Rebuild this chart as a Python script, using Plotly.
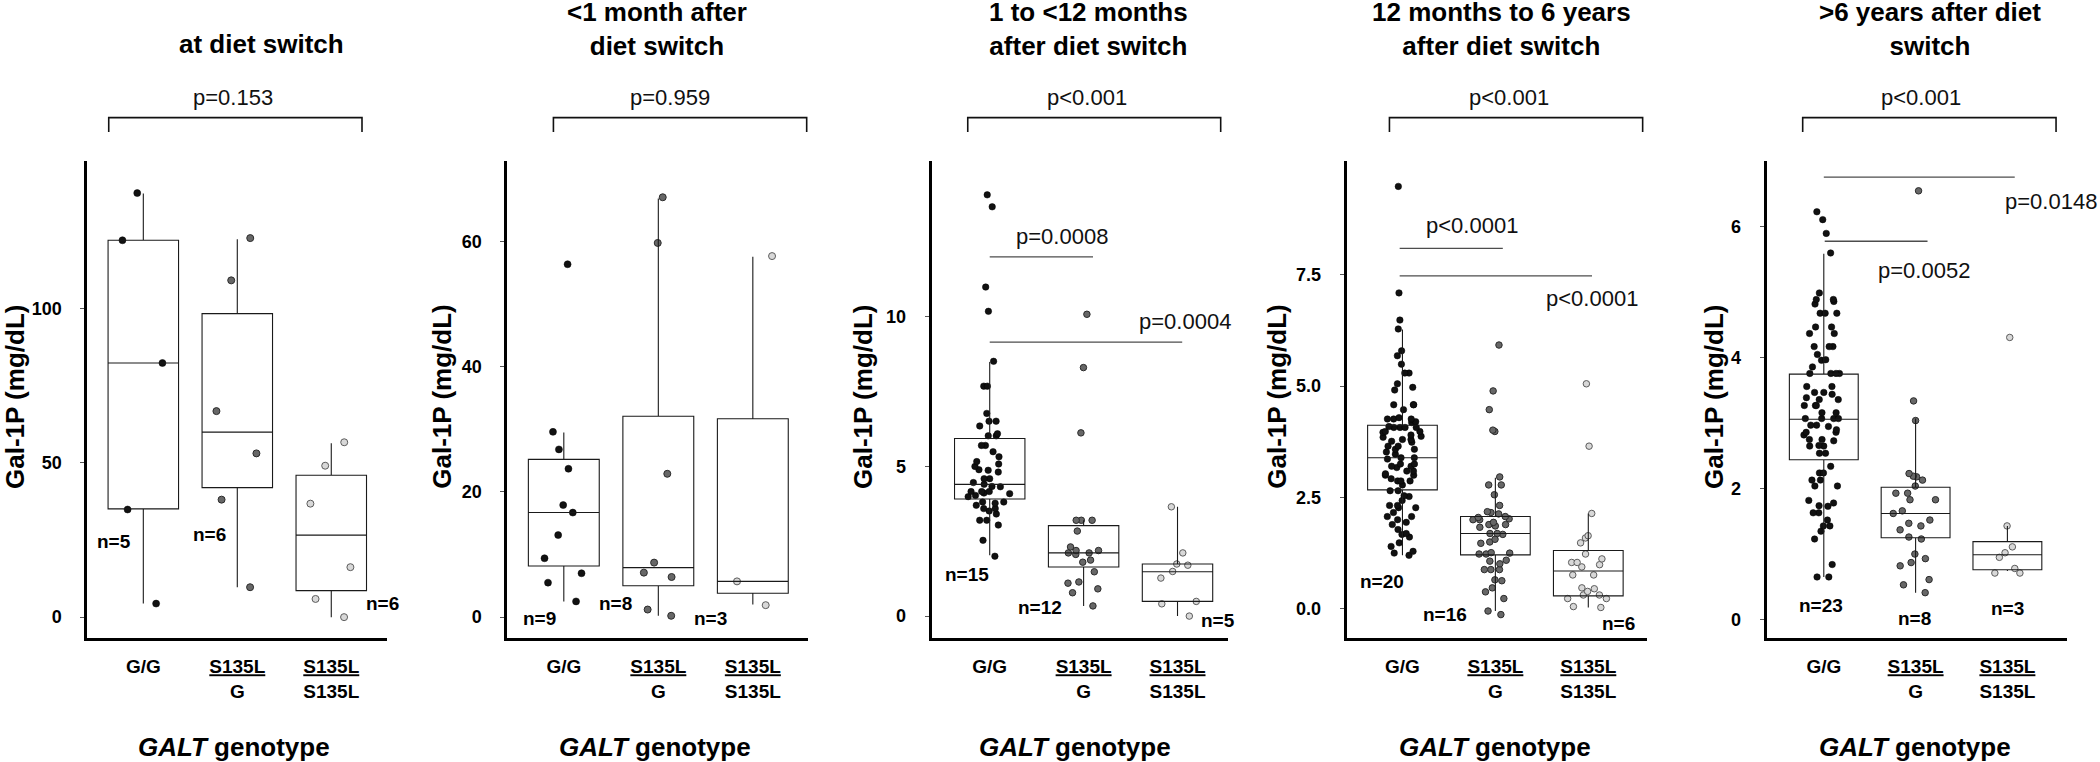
import plotly.graph_objects as go

FONT = "Liberation Sans, Arial, Helvetica, sans-serif"
W, H = 2100, 762

# ---------------- data ----------------
categories = ["G/G", "S135L/G", "S135L/S135L"]
tick_labels = ["G/G", "<u>S135L</u><br>G", "<u>S135L</u><br>S135L"]
panel_titles = ["at diet switch",
                "&lt;1 month after<br>diet switch",
                "1 to &lt;12 months<br>after diet switch",
                "12 months to 6 years<br>after diet switch",
                "&gt;6 years after diet<br>switch"]
overall_p = ["p=0.153", "p=0.959", "p&lt;0.001", "p&lt;0.001", "p&lt;0.001"]
group_n = [[5, 6, 6], [9, 8, 3], [15, 12, 5], [20, 16, 6], [23, 8, 3]]
pair_p3 = ["p=0.0008", "p=0.0004"]
pair_p4 = ["p&lt;0.0001", "p&lt;0.0001"]
pair_p5 = ["p=0.0148", "p=0.0052"]

# Panel 1: at diet switch (Gal-1P, mg/dL)
p1_gg = [137.5, 122.2, 82.4, 34.9, 4.4]
p1_sg = [122.9, 109.2, 66.8, 53.1, 38.1, 9.7]
p1_ss = [56.7, 49.1, 36.8, 16.2, 5.9, 0.0]
p1_q1 = [35.1, 42.0, 8.6]
p1_med = [82.4, 60.0, 26.6]
p1_q3 = [122.2, 98.4, 46.0]
p1_lo = [4.4, 9.7, 0.0]
p1_hi = [137.4, 122.5, 56.4]

# Panel 2: <1 month
p2_gg = [56.4, 29.6, 26.8, 23.7, 17.9, 16.7, 13.1, 9.4, 7.0, 5.5, 2.5]
p2_sg = [67.1, 59.8, 22.9, 8.7, 7.1, 6.4, 1.2, 0.2]
p2_ss = [57.7, 5.7, 1.9]
p2_q1 = [8.15, 5.0, 3.8]
p2_med = [16.7, 7.9, 5.7]
p2_q3 = [25.2, 32.1, 31.7]
p2_lo = [2.5, 0.2, 2.0]
p2_hi = [29.5, 66.9, 57.6]

# Panel 3: 1 to <12 months
p3_gg = [14.07, 13.67, 10.99, 10.18, 8.51, 7.68, 7.68, 6.77, 6.51, 6.51, 6.35, 6.02,
         6.09, 6.02, 5.70, 5.70, 5.49, 5.32, 5.08, 5.16, 5.0, 4.87, 4.89, 4.81, 4.59,
         4.59, 4.40, 4.46, 4.33, 4.32, 4.16, 4.03, 4.09, 4.11, 4.16, 4.16, 3.81, 3.81,
         3.59, 3.70, 3.77, 3.59, 3.99, 3.51, 3.41, 3.2, 3.2, 3.04, 2.53, 2.0]
p3_sg = [10.08, 8.30, 6.12, 3.2, 3.2, 3.2, 2.84, 2.31, 2.11, 2.19, 2.19, 2.06, 2.11,
         1.80, 1.87, 1.48, 1.14, 1.10, 0.91, 0.78, 0.34]
p3_ss = [3.65, 2.11, 1.74, 1.70, 1.49, 1.27, 0.49, 0.41, 0.0]
p3_q1 = [3.91, 1.64, 0.49]
p3_med = [4.40, 2.11, 1.48]
p3_q3 = [5.93, 3.02, 1.74]
p3_lo = [2.03, 0.34, 0.0]
p3_hi = [8.49, 3.2, 3.65]

# Panel 4: 12 months to 6 years
p4_gg = [9.48, 7.09, 6.48, 6.28, 5.79, 5.68, 5.29, 5.49, 5.29, 5.05, 4.91, 4.97, 4.58,
         4.58, 4.47, 4.58, 4.29, 4.26, 4.26, 4.26, 4.20, 4.18, 4.07, 4.07, 4.07, 4.07,
         4.09, 3.96, 3.98, 3.98, 3.90, 3.85, 3.87, 3.80, 3.74, 3.80, 3.76, 3.65, 3.65,
         3.58, 3.58, 3.52, 3.47, 3.39, 3.39, 3.36, 3.25, 3.25, 3.20, 3.20, 3.17, 3.09,
         3.09, 3.03, 3.00, 3.00, 2.87, 2.92, 2.87, 2.78, 2.87, 2.65, 2.65, 2.52, 2.54,
         2.43, 2.32, 2.27, 2.27, 2.32, 2.16, 2.07, 2.07, 1.94, 2.00, 1.78, 1.89, 1.67,
         1.61, 1.69, 1.48, 1.40, 1.20, 1.25, 1.29]
p4_sg = [5.92, 4.89, 4.47, 4.01, 3.98, 2.96, 2.78, 2.78, 2.56, 2.32, 2.18, 2.16, 2.13,
         2.07, 2.05, 2.00, 2.02, 2.00, 1.94, 1.89, 1.89, 1.86, 1.83, 1.69, 1.69, 1.67,
         1.56, 1.50, 1.47, 1.26, 1.25, 1.23, 1.23, 1.09, 1.07, 1.01, 0.88, 0.88, 0.88,
         0.65, 0.63, 0.47, 0.38, 0.23, -0.13, -0.05]
p4_ss = [5.05, 3.65, 2.14, 1.59, 1.64, 1.48, 1.23, 1.12, 1.04, 0.99, 1.04, 0.94, 0.76,
         0.76, 0.47, 0.45, 0.39, 0.31, 0.23, 0.31, 0.23, 0.03, 0.05]
p4_q1 = [2.67, 1.21, 0.29]
p4_med = [3.39, 1.69, 0.85]
p4_q3 = [4.12, 2.07, 1.31]
p4_lo = [1.20, -0.05, 0.03]
p4_hi = [6.27, 2.94, 2.14]

# Panel 5: >6 years
p5_gg = [6.23, 6.11, 5.90, 5.60, 4.99, 4.89, 4.86, 4.82, 4.89, 4.68, 4.68, 4.68, 4.47,
         4.47, 4.37, 4.37, 4.17, 4.17, 4.17, 4.05, 3.97, 3.96, 3.86, 3.76, 3.76, 3.76,
         3.76, 3.56, 3.56, 3.47, 3.47, 3.44, 3.39, 3.36, 3.36, 3.27, 3.27, 3.27, 3.16,
         3.16, 3.07, 3.07, 3.07, 3.07, 2.97, 2.97, 2.95, 2.90, 2.86, 2.86, 2.82, 2.75,
         2.73, 2.75, 2.66, 2.65, 2.65, 2.54, 2.54, 2.34, 2.24, 2.24, 2.04, 2.13, 2.13,
         2.04, 1.74, 1.73, 1.82, 1.78, 1.63, 1.63, 1.52, 1.43, 1.43, 1.35, 1.23, 0.84,
         0.65, 0.65]
p5_sg = [6.55, 3.34, 3.04, 2.18, 2.19, 2.23, 2.13, 2.04, 1.93, 1.93, 1.83, 1.83, 1.66,
         1.62, 1.52, 1.47, 1.43, 1.37, 1.26, 1.23, 1.00, 0.93, 0.87, 0.82, 0.61, 0.53, 0.41]
p5_ss = [4.31, 1.43, 1.11, 1.02, 0.95, 0.78, 0.71, 0.71]
p5_q1 = [2.44, 1.25, 0.76]
p5_med = [3.06, 1.62, 0.99]
p5_q3 = [3.75, 2.02, 1.19]
p5_lo = [0.65, 0.41, 0.74]
p5_hi = [5.59, 3.07, 1.43]

values = [[p1_gg, p1_sg, p1_ss], [p2_gg, p2_sg, p2_ss], [p3_gg, p3_sg, p3_ss],
          [p4_gg, p4_sg, p4_ss], [p5_gg, p5_sg, p5_ss]]
box_stats = [(p1_q1, p1_med, p1_q3, p1_lo, p1_hi), (p2_q1, p2_med, p2_q3, p2_lo, p2_hi),
             (p3_q1, p3_med, p3_q3, p3_lo, p3_hi), (p4_q1, p4_med, p4_q3, p4_lo, p4_hi),
             (p5_q1, p5_med, p5_q3, p5_lo, p5_hi)]
y_ticks = [[0, 50, 100], [0, 20, 40, 60], [0, 5, 10], [0, 2.5, 5, 7.5], [0, 2, 4, 6]]
pair_texts = [[], [], pair_p3, pair_p4, pair_p5]

# ---------------- layout specification (pixels / axis units) ----------------
panels = [
    dict(xdom=(87.3, 387), xr=(-0.596, 2.593), yr=(-6.6, 147.9), fmt="", title_x=261, two=False,
         ytitle_x=15, xtitle_x=234, bracket=(-0.368, 2.327), p_x=0.95, msize=7,
         n_pos=[(-0.31, 24.4), (0.70, 26.7), (2.55, 4.4)], comps=[]),
    dict(xdom=(507.3, 808.3), xr=(-0.598, 2.587), yr=(-3.27, 72.9), fmt="", title_x=657, two=True,
         ytitle_x=441.7, xtitle_x=654.7, bracket=(-0.11, 2.57), p_x=1.12, msize=7,
         n_pos=[(-0.26, -0.23), (0.55, 2.1), (1.556, -0.23)], comps=[]),
    dict(xdom=(931.7, 1228.3), xr=(-0.618, 2.541), yr=(-0.715, 15.2), fmt="", title_x=1088.3, two=True,
         ytitle_x=863, xtitle_x=1074.7, bracket=(-0.234, 2.46), p_x=1.036, msize=6.5,
         n_pos=[(-0.245, 1.40), (0.54, 0.29), (2.43, -0.15)],
         comps=[((0, 1.10, 12.0), (0.77, 12.68)), ((0, 2.05, 9.15), (2.085, 9.84))]),
    dict(xdom=(1346.7, 1647.3), xr=(-0.60, 2.635), yr=(-0.644, 10.05), fmt=".1f", title_x=1501.7, two=True,
         ytitle_x=1276.7, xtitle_x=1494.7, bracket=(-0.14, 2.585), p_x=1.148, msize=6.5,
         n_pos=[(-0.215, 0.61), (0.457, -0.13), (2.33, -0.32)],
         comps=[((-0.03, 1.08, 8.09), (0.745, 8.6)), ((-0.03, 2.04, 7.47), (2.043, 6.96))]),
    dict(xdom=(1766.7, 2066.7), xr=(-0.622, 2.646), yr=(-0.275, 7.006), fmt="", title_x=1930, two=True,
         ytitle_x=1714, xtitle_x=1915, bracket=(-0.23, 2.53), p_x=1.057, msize=6.5,
         n_pos=[(-0.03, 0.22), (0.99, 0.02), (1.996, 0.17)],
         comps=[((0, 2.08, 6.76), (2.47, 6.39)), ((0.01, 1.13, 5.78), (1.095, 5.33))]),
]
Y_TOP, Y_BOT = 161, 637.5
BRACKET_Y, BRACKET_TICK = 117.6, 132.0

marker_styles = [
    dict(color="#111111", line=dict(color="#000000", width=0.5)),
    dict(color="#676767", line=dict(color="#2b2b2b", width=1)),
    dict(color="#d8d8d8", line=dict(color="#5c5c5c", width=1)),
]


def px(x):
    return x / W


def py(y):
    return 1 - y / H


fig = go.Figure()
annotations = []
shapes = []

for k, (spec, groups, stats) in enumerate(zip(panels, values, box_stats), start=1):
    sx = "" if k == 1 else str(k)
    xa, ya = "x" + sx, "y" + sx

    # jittered points
    for gi, vals in enumerate(groups):
        fig.add_trace(go.Box(
            x=[gi] * len(vals), y=vals, xaxis=xa, yaxis=ya, name=categories[gi],
            boxpoints="all", jitter=0.7, pointpos=0, width=0.75, whiskerwidth=0,
            fillcolor="rgba(0,0,0,0)", line=dict(width=0, color="rgba(0,0,0,0)"),
            marker=dict(size=spec["msize"], **marker_styles[gi]), showlegend=False, hoverinfo="y"))

    # boxes from the summary statistics
    q1, med, q3, lo, hi = stats
    fig.add_trace(go.Box(
        x=[0, 1, 2], q1=q1, median=med, q3=q3, lowerfence=lo, upperfence=hi,
        xaxis=xa, yaxis=ya, width=0.75, whiskerwidth=0, boxpoints=False,
        fillcolor="rgba(0,0,0,0)", line=dict(color="#1a1a1a", width=1.1),
        showlegend=False, hoverinfo="skip"))

    fig.update_layout(**{
        ("xaxis" + sx): dict(
            domain=[px(spec["xdom"][0]), px(spec["xdom"][1])], range=list(spec["xr"]), anchor=ya,
            tickvals=[0, 1, 2], ticktext=tick_labels, ticks="", showline=True, linewidth=3,
            linecolor="black", showgrid=False, zeroline=False, ticklabelstandoff=10,
            tickfont=dict(family=FONT, size=19, color="black", weight="bold")),
        ("yaxis" + sx): dict(
            domain=[py(Y_BOT), py(Y_TOP)], range=list(spec["yr"]), anchor=xa,
            tickvals=y_ticks[k - 1], tickformat=spec["fmt"], ticks="outside", ticklen=4,
            tickwidth=1, tickcolor="#555555", showline=True, linewidth=3, linecolor="black",
            showgrid=False, zeroline=False, ticklabelstandoff=15,
            tickfont=dict(family=FONT, size=18, color="black", weight="bold")),
    })

    # panel title
    annotations.append(dict(
        text=panel_titles[k - 1], x=px(spec["title_x"]), y=py(28.5 if spec["two"] else 43.5),
        xref="paper", yref="paper", xanchor="center", yanchor="middle", showarrow=False,
        font=dict(family=FONT, size=26, color="black", weight="bold")))
    # y-axis title
    annotations.append(dict(
        text="Gal-1P (mg/dL)", x=px(spec["ytitle_x"]), y=py(397), xref="paper", yref="paper",
        xanchor="center", yanchor="middle", textangle=-90, showarrow=False,
        font=dict(family=FONT, size=26, color="black", weight="bold")))
    # x-axis title
    annotations.append(dict(
        text="<i>GALT</i> genotype", x=px(spec["xtitle_x"]), y=py(746.5), xref="paper", yref="paper",
        xanchor="center", yanchor="middle", showarrow=False,
        font=dict(family=FONT, size=26, color="black", weight="bold")))
    # overall bracket + p value
    b0, b1 = spec["bracket"]
    shapes.append(dict(
        type="path", xref=xa, yref="paper",
        path=f"M {b0},{py(BRACKET_TICK)} L {b0},{py(BRACKET_Y)} L {b1},{py(BRACKET_Y)} L {b1},{py(BRACKET_TICK)}",
        line=dict(color="#111111", width=1.6)))
    annotations.append(dict(
        text=overall_p[k - 1], x=spec["p_x"], y=py(97), xref=xa, yref="paper",
        xanchor="center", yanchor="middle", showarrow=False,
        font=dict(family=FONT, size=22, color="#111111")))
    # n labels
    for gi, (nx, ny) in enumerate(spec["n_pos"]):
        annotations.append(dict(
            text=f"n={group_n[k - 1][gi]}", x=nx, y=ny, xref=xa, yref=ya,
            xanchor="center", yanchor="middle", showarrow=False,
            font=dict(family=FONT, size=19, color="black", weight="bold")))
    # pairwise comparisons
    for ci, ((lx0, lx1, ly), (tx, ty)) in enumerate(spec["comps"]):
        shapes.append(dict(type="line", xref=xa, yref=ya, x0=lx0, x1=lx1, y0=ly, y1=ly,
                           line=dict(color="#4d4d4d", width=1.3)))
        annotations.append(dict(
            text=pair_texts[k - 1][ci], x=tx, y=ty, xref=xa, yref=ya,
            xanchor="center", yanchor="middle", showarrow=False,
            font=dict(family=FONT, size=22, color="#111111")))

fig.update_layout(
    width=W, height=H, margin=dict(l=0, r=0, t=0, b=0),
    paper_bgcolor="white", plot_bgcolor="white", showlegend=False,
    boxmode="overlay", annotations=annotations, shapes=shapes,
    font=dict(family=FONT, color="black"))

fig.write_html("out.html", config={"displayModeBar": False},
               post_script="document.body.style.margin='0px';document.body.style.overflow='hidden';")
